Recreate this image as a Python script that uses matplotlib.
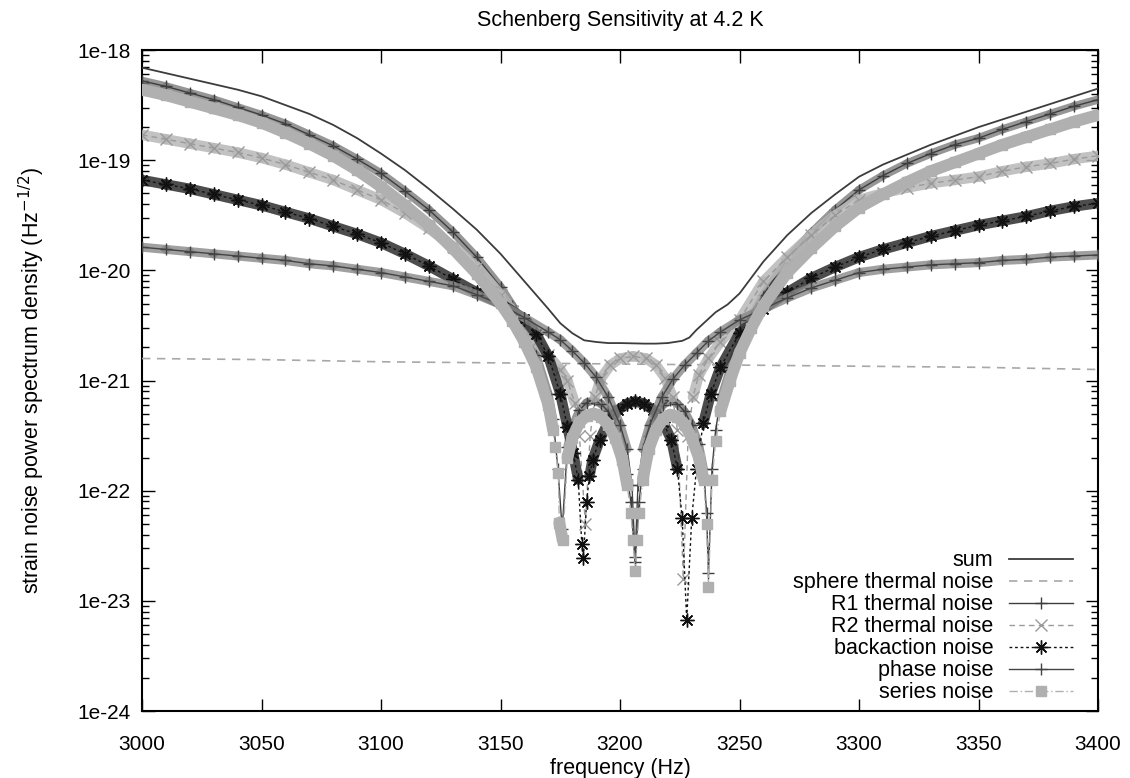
import numpy as np
import matplotlib
matplotlib.use("Agg")
import matplotlib.pyplot as plt
from matplotlib.collections import LineCollection
from matplotlib.ticker import FixedLocator, FuncFormatter, NullFormatter

plt.rcParams['font.family'] = ['Liberation Sans', 'DejaVu Sans']

# ---- data (log10 of strain noise) ----
f_sum = [3000, 3010, 3020, 3030, 3040, 3050, 3060, 3070, 3080, 3090, 3100, 3110, 3120, 3130,
         3140, 3150, 3160, 3170, 3175, 3180, 3185, 3190, 3195, 3200, 3210, 3215, 3220, 3226,
         3229, 3232, 3236, 3240, 3245, 3250, 3260, 3270, 3280, 3290, 3300, 3310, 3320, 3330,
         3340, 3350, 3360, 3370, 3380, 3390, 3400]
lg_sum = [-18.16, -18.21, -18.26, -18.31, -18.36, -18.42, -18.50, -18.58, -18.68, -18.80,
          -18.94, -19.09, -19.26, -19.44, -19.63, -19.85, -20.10, -20.35, -20.48, -20.57,
          -20.635, -20.65, -20.66, -20.66, -20.665, -20.665, -20.66, -20.64, -20.61, -20.54,
          -20.46, -20.38, -20.31, -20.21, -19.92, -19.68, -19.48, -19.31, -19.15, -19.04,
          -18.95, -18.86, -18.78, -18.70, -18.63, -18.56, -18.49, -18.42, -18.35]

f_sphere = [3000, 3050, 3100, 3150, 3200, 3250, 3300, 3350, 3400]
lg_sphere = [-20.80, -20.81, -20.83, -20.84, -20.85, -20.86, -20.87, -20.88, -20.90]

f_r1 = [3000, 3010, 3020, 3030, 3040, 3050, 3060, 3070, 3080, 3090, 3100, 3110, 3120, 3130,
        3140, 3150, 3155, 3160, 3165, 3170, 3172, 3174, 3175.8, 3178, 3180, 3183, 3186, 3189,
        3192, 3195, 3198, 3201, 3203, 3204.5, 3206.3, 3208, 3209.5, 3212, 3215, 3218, 3221,
        3224, 3227, 3230, 3233, 3235, 3236.2, 3237, 3238.5, 3240, 3242, 3246, 3250, 3255,
        3260, 3270, 3280, 3290, 3300, 3310, 3320, 3330, 3340, 3350, 3360, 3370, 3380, 3390, 3400]
lg_r1 = [-18.28, -18.33, -18.39, -18.45, -18.52, -18.59, -18.67, -18.77, -18.87, -18.99,
         -19.12, -19.28, -19.45, -19.65, -19.88, -20.15, -20.32, -20.52, -20.77, -21.12,
         -21.35, -21.80, -22.35, -21.60, -21.42, -21.27, -21.20, -21.18, -21.21, -21.28,
         -21.40, -21.60, -21.85, -22.10, -22.65, -22.10, -21.80, -21.50, -21.32, -21.22,
         -21.18, -21.21, -21.28, -21.40, -21.58, -21.80, -22.20, -22.75, -21.80, -21.45,
         -21.18, -20.90, -20.65, -20.42, -20.22, -19.90, -19.66, -19.45, -19.27, -19.14,
         -19.03, -18.94, -18.86, -18.80, -18.72, -18.65, -18.58, -18.51, -18.45]

f_r2 = [3000, 3010, 3020, 3030, 3040, 3050, 3060, 3070, 3080, 3090, 3100, 3110, 3120, 3130,
        3140, 3150, 3155, 3160, 3165, 3170, 3175, 3178, 3181, 3183, 3185.5, 3187.5, 3189.5,
        3192, 3196, 3200, 3205.5, 3211, 3215, 3219, 3222, 3224, 3226.5, 3228.5, 3230.5, 3233,
        3237, 3242, 3250, 3260, 3270, 3280, 3290, 3300, 3310, 3320, 3330, 3340, 3350, 3360,
        3370, 3380, 3390, 3400]
lg_r2 = [-18.77, -18.81, -18.85, -18.89, -18.93, -18.98, -19.04, -19.11, -19.18, -19.27,
         -19.36, -19.48, -19.62, -19.78, -19.97, -20.22, -20.37, -20.52, -20.65, -20.77,
         -20.90, -21.00, -21.20, -21.50, -22.30, -21.50, -21.15, -20.98, -20.86, -20.80,
         -20.78, -20.80, -20.86, -20.98, -21.15, -21.45, -22.80, -21.50, -21.15, -20.95,
         -20.80, -20.65, -20.45, -20.10, -19.88, -19.68, -19.50, -19.36, -19.30, -19.25,
         -19.21, -19.18, -19.15, -19.10, -19.06, -19.03, -18.99, -18.96]

f_back = [3000, 3010, 3020, 3030, 3040, 3050, 3060, 3070, 3080, 3090, 3100, 3110, 3120, 3130,
          3140, 3150, 3160, 3165, 3170, 3175, 3178, 3180.4, 3182.5, 3184, 3184.7, 3186, 3187.2,
          3188.5, 3191.5, 3195, 3199, 3203, 3206.3, 3210, 3214, 3218, 3221.5, 3224, 3226,
          3227.9, 3230, 3232, 3234.8, 3238, 3242, 3250, 3260, 3270, 3280, 3290, 3300, 3310,
          3320, 3330, 3340, 3350, 3360, 3370, 3380, 3390, 3400]
lg_back = [-19.18, -19.22, -19.26, -19.31, -19.36, -19.41, -19.47, -19.53, -19.60, -19.67,
           -19.75, -19.85, -19.96, -20.08, -20.20, -20.30, -20.44, -20.58, -20.78, -21.12,
           -21.42, -21.66, -21.90, -22.48, -22.61, -22.10, -21.87, -21.72, -21.54, -21.38,
           -21.27, -21.21, -21.19, -21.21, -21.27, -21.38, -21.54, -21.80, -22.25, -23.17,
           -22.25, -21.80, -21.39, -21.12, -20.88, -20.57, -20.35, -20.20, -20.07, -19.97,
           -19.88, -19.81, -19.75, -19.69, -19.64, -19.59, -19.55, -19.51, -19.46, -19.42,
           -19.39]

f_phase = [3000, 3010, 3020, 3030, 3040, 3050, 3060, 3070, 3080, 3090, 3100, 3110, 3120, 3130,
           3140, 3150, 3160, 3170, 3175, 3180, 3185, 3190, 3195, 3200, 3203, 3205, 3206.3,
           3207.5, 3209.5, 3212.5, 3217.5, 3222, 3227, 3232, 3237, 3242, 3250, 3260, 3270,
           3280, 3290, 3300, 3310, 3320, 3330, 3340, 3350, 3360, 3370, 3380, 3390, 3400]
lg_phase = [-19.79, -19.81, -19.83, -19.85, -19.87, -19.89, -19.91, -19.94, -19.96, -19.99,
            -20.02, -20.06, -20.10, -20.14, -20.22, -20.31, -20.43, -20.56, -20.63, -20.73,
            -20.84, -20.97, -21.15, -21.40, -21.62, -21.95, -22.60, -21.95, -21.62, -21.40,
            -21.15, -20.99, -20.86, -20.75, -20.64, -20.56, -20.45, -20.35, -20.25, -20.16,
            -20.09, -20.02, -19.99, -19.97, -19.95, -19.94, -19.93, -19.91, -19.90, -19.88,
            -19.87, -19.86]

f_series = [3000, 3010, 3020, 3030, 3040, 3050, 3060, 3070, 3080, 3090, 3100, 3110, 3120, 3130,
            3140, 3150, 3155, 3160, 3165, 3170, 3172, 3172.8, 3174.2, 3174.6, 3176, 3178, 3180,
            3183, 3186, 3189, 3192, 3195, 3198, 3201, 3203, 3204.5, 3205.5, 3206.3, 3207.2,
            3208, 3209.5, 3212, 3215, 3218, 3221, 3224, 3227, 3230, 3233, 3235, 3236.2, 3237,
            3238.5, 3240, 3242, 3246, 3250, 3255, 3260, 3270, 3280, 3290, 3300, 3310, 3320,
            3330, 3340, 3350, 3360, 3370, 3380, 3390, 3400]
lg_series = [-18.36, -18.41, -18.47, -18.53, -18.59, -18.66, -18.75, -18.85, -18.96, -19.09,
             -19.24, -19.41, -19.59, -19.80, -20.03, -20.30, -20.46, -20.65, -20.88, -21.22,
             -21.45, -21.60, -21.84, -22.29, -22.45, -21.70, -21.52, -21.38, -21.32, -21.30,
             -21.33, -21.40, -21.52, -21.72, -21.95, -22.20, -22.45, -22.73, -22.45, -22.20,
             -21.90, -21.62, -21.45, -21.35, -21.31, -21.33, -21.40, -21.52, -21.70, -21.90,
             -22.30, -22.87, -21.90, -21.55, -21.28, -21.00, -20.75, -20.52, -20.32, -20.02,
             -19.80, -19.60, -19.43, -19.31, -19.20, -19.10, -19.02, -18.94, -18.86, -18.79,
             -18.72, -18.65, -18.59]

labels = ["sum", "sphere thermal noise", "R1 thermal noise", "R2 thermal noise",
          "backaction noise", "phase noise", "series noise"]

x_ticks = [3000, 3050, 3100, 3150, 3200, 3250, 3300, 3350, 3400]
y_ticks = [1e-24, 1e-23, 1e-22, 1e-21, 1e-20, 1e-19, 1e-18]

ast = (8, 2, 0)  # gnuplot style asterisk

fig = plt.figure(figsize=(11.3, 7.78), dpi=100)
ax = fig.add_axes([0.1257, 0.0861, 0.8460, 0.8496])


def v(lg):
    return 10.0 ** np.array(lg)


def band(f, lg, color, lw, alpha, z):
    # thick band where gnuplot's dense markers overlap (not on the steep dips)
    segs = []
    for i in range(len(f) - 1):
        slope = abs(lg[i + 1] - lg[i]) / (f[i + 1] - f[i])
        if slope < 0.12:
            segs.append([(f[i], 10.0 ** lg[i]), (f[i + 1], 10.0 ** lg[i + 1])])
    lc = LineCollection(segs, colors=color, linewidths=lw, alpha=alpha, capstyle='round',
                        zorder=z)
    ax.add_collection(lc)


# sum
ax.plot(f_sum, v(lg_sum), color='#3c3c3c', lw=1.3, label=labels[0], zorder=3)
# sphere thermal
ax.plot(f_sphere, v(lg_sphere), color='#a8a8a8', lw=1.2, ls=(0, (5, 4)), label=labels[1], zorder=3)

# R1 thermal
band(f_r1, lg_r1, '#7c7c7c', 6, 0.8, 3)
ax.plot(f_r1, v(lg_r1), color='#3e3e3e', lw=1.0, marker='+', ms=9, mew=1.0,
        label=labels[2], zorder=4)
# R2 thermal
band(f_r2, lg_r2, '#b8b8b8', 7.5, 0.85, 4)
ax.plot(f_r2, v(lg_r2), color='#9a9a9a', lw=1.0, ls=(0, (4, 3)), marker='x', ms=8, mew=1.0,
        label=labels[3], zorder=5)
# backaction
band(f_back, lg_back, '#2e2e2e', 7.5, 0.85, 5)
ax.plot(f_back, v(lg_back), color='#111111', lw=1.0, ls=(0, (2, 2)), marker=ast, ms=10, mew=1.0,
        label=labels[4], zorder=6)
# phase
band(f_phase, lg_phase, '#888888', 6.5, 0.8, 6)
ax.plot(f_phase, v(lg_phase), color='#444444', lw=1.0, marker='+', ms=9, mew=1.0,
        label=labels[5], zorder=7)
# series
band(f_series, lg_series, '#b0b0b0', 8.5, 1.0, 7)
ax.plot(f_series, v(lg_series), color='#b0b0b0', lw=1.0, ls=(0, (6, 2, 1, 2)), marker='s', ms=6.5,
        mec='#b0b0b0', mfc='#b0b0b0', label=labels[6], zorder=8)

ax.set_yscale('log')
ax.set_xlim(3000, 3400)
ax.set_ylim(1e-24, 1e-18)
ax.set_xticks(x_ticks)
ax.yaxis.set_major_locator(FixedLocator(y_ticks))
minor = [m * 10.0 ** e for e in range(-24, -18) for m in range(2, 10)]
ax.yaxis.set_minor_locator(FixedLocator(minor))
ax.yaxis.set_minor_formatter(NullFormatter())
ax.yaxis.set_major_formatter(FuncFormatter(lambda y, p: "1e%d" % int(round(np.log10(y)))))

ax.tick_params(which='major', direction='in', length=9, width=1.0, top=True, right=True,
               labelsize=15, pad=8)
ax.tick_params(axis='x', which='major', pad=17)
ax.tick_params(which='minor', direction='in', length=5, width=1.0, right=True)
for s in ax.spines.values():
    s.set_linewidth(1.5)

ax.set_title("Schenberg Sensitivity at 4.2 K", fontsize=15.5, pad=17)
ax.set_xlabel("frequency (Hz)", fontsize=15.5, labelpad=3)
ax.set_ylabel(r"strain noise power spectrum density (Hz$^{-1/2}$)", fontsize=15.5, labelpad=22)

leg = ax.legend(loc='lower right', bbox_to_anchor=(0.974, 0.012), frameon=False, markerfirst=False,
                fontsize=15.5, handlelength=3.0, handletextpad=0.7, labelspacing=0.045,
                borderpad=0, borderaxespad=0, numpoints=1)

fig.savefig("out.png", dpi=100)
